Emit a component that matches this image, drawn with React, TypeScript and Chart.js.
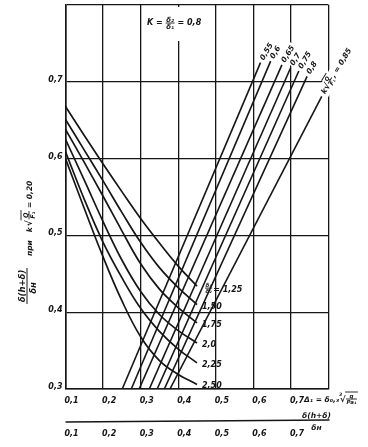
import React, { useEffect, useRef } from "react";
import { Chart, registerables } from "chart.js";

Chart.register(...registerables);

// ---- data ----
const xTicks = [0.1, 0.2, 0.3, 0.4, 0.5, 0.6, 0.7];
const xTickLabels = ["0,1", "0,2", "0,3", "0,4", "0,5", "0,6", "0,7"];
const yTicks = [0.3, 0.4, 0.5, 0.6, 0.7];
const yTickLabels = ["0,3", "0,4", "0,5", "0,6", "0,7"];

// descending curves, parameter delta ratio
const curveX = [0.1, 0.15, 0.2, 0.25, 0.3, 0.35, 0.4, 0.45];
const ratioLabels = ["1,25", "1,50", "1,75", "2,0", "2,25", "2,50"];
const curve125 = [0.668, 0.63, 0.593, 0.557, 0.522, 0.49, 0.46, 0.434];
const curve150 = [0.651, 0.611, 0.571, 0.53, 0.491, 0.458, 0.432, 0.41];
const curve175 = [0.638, 0.595, 0.551, 0.506, 0.463, 0.43, 0.406, 0.386];
const curve200 = [0.625, 0.572, 0.518, 0.468, 0.427, 0.397, 0.376, 0.36];
const curve225 = [0.609, 0.547, 0.491, 0.445, 0.405, 0.375, 0.352, 0.334];
const curve250 = [0.6, 0.535, 0.472, 0.415, 0.368, 0.337, 0.319, 0.306];
const curves = [curve125, curve150, curve175, curve200, curve225, curve250];

// ascending straight lines, parameter k*sqrt(Q/F1)
const lineLabels = ["0,55", "0,6", "0,65", "0,7", "0,75", "0,8", "0,85"];
const lineBottomX = [0.251, 0.275, 0.296, 0.323, 0.344, 0.363, 0.378];
const lineBottomY = [0.3, 0.3, 0.3, 0.3, 0.3, 0.3, 0.3];
const lineTopX = [0.619, 0.646, 0.676, 0.699, 0.721, 0.743, 0.782];
const lineTopY = [0.725, 0.727, 0.722, 0.718, 0.714, 0.707, 0.681];

// ---- styling ----
const INK = "#161616";
const F = "'DejaVu Sans', 'Liberation Sans', sans-serif";
const fnt = (s: number) => `bold italic ${s}px ${F}`;

function frac(ctx: CanvasRenderingContext2D, num: string, den: string, x: number, y: number, size: number): number {
  ctx.font = fnt(size);
  const w = Math.max(ctx.measureText(num).width, ctx.measureText(den).width) + 1;
  ctx.textAlign = "center";
  ctx.textBaseline = "alphabetic";
  ctx.fillText(num, x + w / 2, y - 1.5);
  ctx.fillText(den, x + w / 2, y + size * 0.8 + 0.5);
  ctx.beginPath();
  ctx.moveTo(x, y);
  ctx.lineTo(x + w, y);
  ctx.lineWidth = 0.9;
  ctx.stroke();
  return w;
}

const textPlugin = {
  id: "nomoTexts",
  afterDraw(chart: any) {
    const ctx: CanvasRenderingContext2D = chart.ctx;
    const xs = chart.scales.x;
    const ys = chart.scales.y;
    const px = (v: number) => xs.getPixelForValue(v);
    const py = (v: number) => ys.getPixelForValue(v);
    ctx.save();
    ctx.fillStyle = INK;
    ctx.strokeStyle = INK;

    // K label at top, on white
    ctx.fillStyle = "#fff";
    ctx.fillRect(145, ys.top + 2, 66, 34);
    ctx.fillStyle = INK;
    ctx.font = fnt(8);
    ctx.textAlign = "left";
    ctx.textBaseline = "middle";
    let kx = 147;
    const ky = ys.top + 18;
    ctx.fillText("K =", kx, ky);
    kx += ctx.measureText("K =").width + 3;
    const fw = frac(ctx, "δ₂", "δ₁", kx, ky, 7);
    kx += fw + 3;
    ctx.font = fnt(8);
    ctx.textAlign = "left";
    ctx.textBaseline = "middle";
    ctx.fillText("= 0,8", kx, ky);

    // y tick labels
    ctx.font = fnt(8);
    ctx.textAlign = "right";
    ctx.textBaseline = "middle";
    yTicks.forEach((v, i) => ctx.fillText(yTickLabels[i], xs.left - 3, py(v) - 2));

    // x tick labels (main axis)
    const ab = ys.bottom;
    ctx.textAlign = "left";
    xTicks.forEach((v, i) => ctx.fillText(xTickLabels[i], px(v) - 1, ab + 12));

    // main x-axis title
    let tx = px(0.7) + 13;
    const ty = ab + 11;
    ctx.font = fnt(7.5);
    ctx.fillText("Δ₁ = δ₀,₃", tx, ty);
    tx += ctx.measureText("Δ₁ = δ₀,₃").width;
    ctx.font = fnt(4.5);
    ctx.fillText("3", tx, ty - 5);
    ctx.font = fnt(8.5);
    ctx.fillText("√", tx + 1, ty);
    const rx = tx + 7;
    const rw = frac(ctx, "q", "Pa₁", rx, ty - 1, 5.5);
    ctx.beginPath();
    ctx.moveTo(rx - 1, ty - 8);
    ctx.lineTo(rx + rw + 1, ty - 8);
    ctx.lineWidth = 0.9;
    ctx.stroke();

    // second axis
    const sy = ab + 32;
    ctx.beginPath();
    ctx.moveTo(px(0.1), sy + 1);
    ctx.lineTo(px(0.8) + 1, sy - 1);
    ctx.lineWidth = 1.5;
    ctx.stroke();
    ctx.font = fnt(8);
    ctx.textAlign = "left";
    ctx.textBaseline = "middle";
    xTicks.forEach((v, i) => ctx.fillText(xTickLabels[i], px(v) - 1, sy + 13));
    ctx.font = fnt(7.5);
    ctx.textAlign = "center";
    ctx.textBaseline = "alphabetic";
    ctx.fillText("δ(h+δ)", px(0.8) - 12, sy - 3);
    ctx.fillText("δн", px(0.8) - 12, sy + 9);

    // y-axis title (rotated)
    ctx.save();
    ctx.translate(27, 304);
    ctx.rotate(-Math.PI / 2);
    ctx.font = fnt(8.5);
    ctx.textAlign = "center";
    ctx.fillText("δ(h+δ)", 18, -2);
    ctx.beginPath();
    ctx.moveTo(0, 0);
    ctx.lineTo(36, 0);
    ctx.lineWidth = 1;
    ctx.stroke();
    ctx.fillText("δн", 16, 9);
    ctx.font = fnt(7.5);
    ctx.textAlign = "left";
    ctx.textBaseline = "middle";
    let ax = 48;
    ctx.fillText("при   k", ax, 3);
    ax += ctx.measureText("при   k").width + 1;
    ctx.font = fnt(9);
    ctx.fillText("√", ax, 3);
    ax += 7;
    const qw = frac(ctx, "Q", "F₁", ax, 2, 6.5);
    ctx.beginPath();
    ctx.moveTo(ax - 1, -6);
    ctx.lineTo(ax + qw + 1, -6);
    ctx.stroke();
    ax += qw + 3;
    ctx.font = fnt(7.5);
    ctx.textAlign = "left";
    ctx.textBaseline = "middle";
    ctx.fillText("= 0,20", ax, 3);
    ctx.restore();

    // labels at ends of descending curves
    curves.forEach((c, i) => {
      const ex = px(curveX[curveX.length - 1]);
      const ey = py(c[c.length - 1]);
      ctx.font = fnt(8);
      ctx.textAlign = "left";
      ctx.textBaseline = "middle";
      if (i === 0) {
        const w = frac(ctx, "δ₃", "δ₂", ex + 8, ey + 2, 5.5);
        ctx.font = fnt(8);
        ctx.textAlign = "left";
        ctx.textBaseline = "middle";
        ctx.fillText("= " + ratioLabels[i], ex + 8 + w + 1, ey + 4);
      } else {
        ctx.fillText(ratioLabels[i], ex + 5, ey + 2);
      }
    });

    // rotated labels at tops of ascending lines
    const ang = (-59 * Math.PI) / 180;
    lineLabels.forEach((lab, i) => {
      const x0 = px(lineTopX[i]);
      const y0 = py(lineTopY[i]);
      ctx.save();
      ctx.translate(x0 + 1, y0 - 2);
      ctx.rotate(ang);
      ctx.textAlign = "left";
      ctx.textBaseline = "middle";
      if (i < lineLabels.length - 1) {
        ctx.font = fnt(7.5);
        const w = ctx.measureText(lab).width;
        ctx.fillStyle = "#fff";
        ctx.fillRect(0, -5, w + 3, 10);
        ctx.fillStyle = INK;
        ctx.fillText(lab, 1, 0);
      } else {
        ctx.fillStyle = "#fff";
        ctx.fillRect(0, -7, 52, 13);
        ctx.fillStyle = INK;
        ctx.font = fnt(7.5);
        ctx.fillText("k", 1, 0);
        ctx.font = fnt(9);
        ctx.fillText("√", 6, 0);
        const w = frac(ctx, "Q", "F₁", 12, -1, 5.5);
        ctx.beginPath();
        ctx.moveTo(11, -8);
        ctx.lineTo(13 + w, -8);
        ctx.stroke();
        ctx.font = fnt(7.5);
        ctx.textAlign = "left";
        ctx.textBaseline = "middle";
        ctx.fillText(", = " + lab, 13 + w, 0);
      }
      ctx.restore();
    });

    ctx.restore();
  },
};

export default function App() {
  const ref = useRef<HTMLCanvasElement | null>(null);

  useEffect(() => {
    if (!ref.current) return;
    const datasets: any[] = [];
    curves.forEach((c, i) => {
      datasets.push({
        label: ratioLabels[i],
        data: curveX.map((x, j) => ({ x, y: c[j] })),
        borderColor: INK,
        borderWidth: 1.7,
        pointRadius: 0,
        fill: false,
        tension: 0.4,
      });
    });
    lineLabels.forEach((lab, i) => {
      datasets.push({
        label: lab,
        data: [
          { x: lineBottomX[i], y: lineBottomY[i] },
          { x: lineTopX[i], y: lineTopY[i] },
        ],
        borderColor: INK,
        borderWidth: 1.6,
        pointRadius: 0,
        fill: false,
        tension: 0,
      });
    });

    const chart = new Chart(ref.current, {
      type: "line",
      data: { datasets },
      options: {
        responsive: false,
        animation: false,
        devicePixelRatio: 1,
        layout: { padding: { left: 65.5, right: 39.5, top: 5, bottom: 58 } },
        plugins: { legend: { display: false }, tooltip: { enabled: false } },
        scales: {
          x: {
            type: "linear",
            min: 0.1,
            max: 0.8,
            ticks: { display: false, stepSize: 0.1 },
            grid: { color: INK, lineWidth: 1.3, drawTicks: false },
            border: { display: true, color: INK, width: 1.6 },
          },
          y: {
            type: "linear",
            min: 0.3,
            max: 0.8,
            ticks: { display: false, stepSize: 0.1 },
            grid: { color: INK, lineWidth: 1.3, drawTicks: false },
            border: { display: true, color: INK, width: 1.6 },
          },
        },
      },
      plugins: [textPlugin],
    });
    return () => chart.destroy();
  }, []);

  return (
    <div style={{ position: "absolute", left: 0, top: 0, width: 368, height: 447, background: "#fff" }}>
      <canvas ref={ref} width={368} height={447} style={{ display: "block", width: 368, height: 447 }} />
    </div>
  );
}
